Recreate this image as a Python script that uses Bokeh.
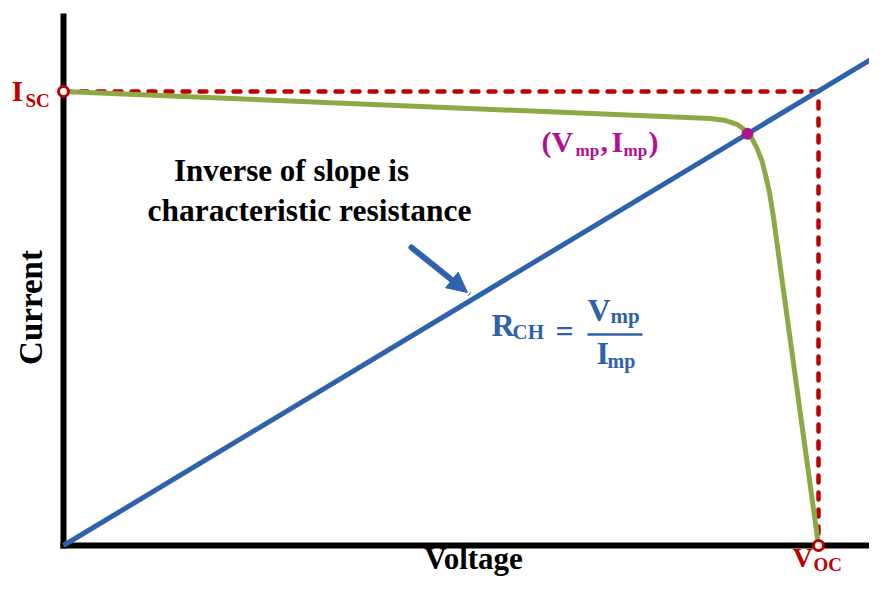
from bokeh.plotting import figure
from bokeh.models import Range1d, Arrow, NormalHead
from bokeh.core.properties import value
from bokeh.embed import file_html
from bokeh.resources import INLINE

# ---- data (normalised units: V / Voc, I / Isc) ----
voltage = [0.0, 0.857, 0.877, 0.893, 0.903, 0.911, 0.918, 0.925, 0.930, 0.935, 0.940, 1.0]
current = [1.0, 0.9405, 0.936, 0.927, 0.914, 0.899, 0.877, 0.848, 0.815, 0.778, 0.727, 0.0]
v_oc = 1.0
i_sc = 1.0
v_mp = 0.906
i_mp = 0.907
v_line_end = 1.09

RED = "#C00000"
GREEN = "#8BAA46"
BLUE = "#2E63AC"
MAG = "#B0128F"
FONT = value("Liberation Serif")

# screen-pixel helpers for annotation placement
X0, Y0, PX_X, PX_Y = 63.0, 545.0, 755.0, 454.0
def sx(px):
    return (px - X0) / PX_X * v_oc
def sy(py):
    return (Y0 - py) / PX_Y * i_sc

W, H = 869, 576
p = figure(width=W, height=H, x_range=Range1d(sx(0), sx(W)),
           y_range=Range1d(sy(H), sy(0)), x_axis_type=None, y_axis_type=None,
           toolbar_location=None, output_backend="svg", min_border=0)
p.outline_line_color = None
p.grid.visible = False

# axes lines
p.line([0, 0], [sy(548), sy(13)], line_color="black", line_width=6)
p.line([sx(60), sx(890)], [0, 0], line_color="black", line_width=6)

# dashed Isc / Voc guides
p.line([0, v_oc, v_oc], [i_sc, i_sc, 0], line_color=RED, line_width=4.5,
       line_dash="7 10", line_cap="round", line_join="round")

# blue characteristic-resistance line
slope = i_mp / v_mp
p.line([0, v_line_end], [0, slope * v_line_end], line_color=BLUE, line_width=5)

# green I-V curve
p.line(voltage, current, line_color=GREEN, line_width=5, line_join="round")

# points
p.scatter([0, v_oc], [i_sc, 0], size=10, fill_color="white", line_color=RED, line_width=3)
p.scatter([v_mp], [i_mp], size=11, fill_color=MAG, line_color=MAG)

# arrow
p.add_layout(Arrow(end=NormalHead(size=20, fill_color=BLUE, line_color=BLUE),
                   x_start=sx(411), y_start=sy(247), x_end=sx(467), y_end=sy(292),
                   line_color=BLUE, line_width=6, line_cap="round"))

SHIFT = 0.39  # compensation of the baseline offset seen in the svg output

def txt(x, y, s, size, color="black", align="left", rotated=False):
    if rotated:
        xo, yo, ang = -SHIFT * size, 0.0, 1.5708
    else:
        xo, yo, ang = 0.0, -SHIFT * size, 0.0
    p.text([x], [y], text=[s], text_font=FONT, text_font_style="bold",
           text_font_size=f"{size}px", text_color=color, text_align=align,
           text_baseline="alphabetic", angle=ang, x_offset=xo, y_offset=yo)

# annotation text
txt(sx(291), sy(182), "Inverse of slope is", 31, align="center")
txt(sx(309), sy(222), "characteristic resistance", 31.5, align="center")

# axis labels
txt(sx(473), sy(570), "Voltage", 31, align="center")
txt(sx(43), sy(307), "Current", 33, align="center", rotated=True)

# Isc / Voc labels
txt(sx(11), sy(102), "I", 30, RED)
txt(sx(25), sy(107), "SC", 19, RED)
txt(sx(792), sy(568), "V", 28, RED)
txt(sx(813), sy(571), "OC", 19, RED)

# (Vmp, Imp)
txt(sx(541), sy(153), "(V", 30, MAG)
txt(sx(575), sy(157), "mp", 17, MAG)
txt(sx(600), sy(153), ",", 30, MAG)
txt(sx(611), sy(153), "I", 30, MAG)
txt(sx(623), sy(157), "mp", 17, MAG)
txt(sx(648), sy(153), ")", 30, MAG)

# R_CH formula
txt(sx(491), sy(337), "R", 32, BLUE)
txt(sx(512), sy(340), "CH", 21, BLUE)
txt(sx(564), sy(343), "=", 32, BLUE, align="center")
txt(sx(587), sy(322), "V", 32, BLUE)
txt(sx(610), sy(324), "mp", 21, BLUE)
p.line([sx(587), sx(642)], [sy(334), sy(334)], line_color=BLUE, line_width=2.5)
txt(sx(596), sy(365), "I", 32, BLUE)
txt(sx(607), sy(368), "mp", 20, BLUE)

open("out.html", "w").write(file_html(p, INLINE))
